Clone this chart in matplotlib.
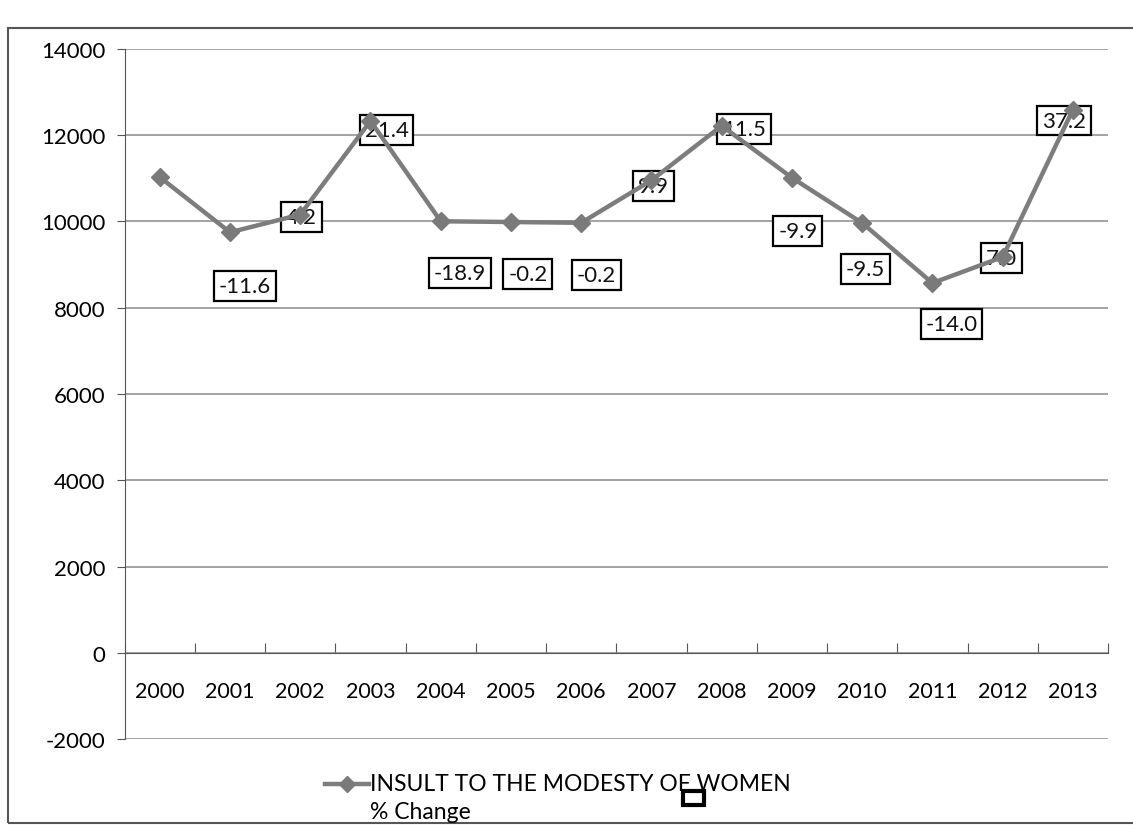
import matplotlib.pyplot as plt
from matplotlib.patches import Rectangle

years = ['2000', '2001', '2002', '2003', '2004', '2005', '2006',
         '2007', '2008', '2009', '2010', '2011', '2012', '2013']
cases = [11024, 9746, 10155, 12325, 10001, 9984, 9966,
         10950, 12214, 11009, 9961, 8570, 9173, 12589]
pct_change = ['', '-11.6', '4.2', '21.4', '-18.9', '-0.2', '-0.2',
              '9.9', '11.5', '-9.9', '-9.5', '-14.0', '7.0', '37.2']
y_ticks = [-2000, 0, 2000, 4000, 6000, 8000, 10000, 12000, 14000]

# where each data label box sits relative to its point (pixels)
label_offsets = [(0, 0), (15, -54), (1, -2), (16, -9), (19, -52), (17, -52), (15, -52),
                 (2, -6), (22, -3), (6, -53), (3, -46), (19, -41), (-1, -1), (-9, -11)]

plt.rcParams['font.family'] = ['Lato', 'DejaVu Sans']

fig = plt.figure(figsize=(11.33, 8.28), dpi=100)
ax = fig.add_axes([0.110, 0.106, 0.868, 0.834])

x = list(range(len(years)))
ax.plot(x, cases, color='#7d7d7d', linewidth=3.2, marker='D', markersize=9,
        markerfacecolor='#7a7a7a', markeredgecolor='#7a7a7a', zorder=3)

for i, txt in enumerate(pct_change):
    if txt == '':
        continue
    dx, dy = label_offsets[i]
    ax.annotate(txt, (x[i], cases[i]), xytext=(dx, dy), textcoords='offset pixels',
                ha='center', va='center', fontsize=16, color='#111111', zorder=2,
                bbox=dict(boxstyle='square,pad=0.22', facecolor='white',
                          edgecolor='black', linewidth=1.6))

ax.set_ylim(-2000, 14000)
ax.set_xlim(-0.5, len(years) - 0.5)
ax.set_yticks(y_ticks)
ax.set_yticklabels([str(v) for v in y_ticks])
ax.yaxis.grid(True, color='#8a8a8a', linewidth=1.1)
ax.set_axisbelow(True)

# category axis: ticks between categories, labels under each category
ax.set_xticks([i - 0.5 for i in range(len(years) + 1)])
ax.set_xticklabels([])
ax.tick_params(axis='x', which='major', direction='in', length=7, color='#555555')
ax.set_xticks(x, minor=True)
ax.set_xticklabels(years, minor=True)
ax.tick_params(axis='x', which='minor', length=0, pad=20, labelsize=15.5)
ax.tick_params(axis='y', length=6, color='#555555', pad=8, labelsize=16)

ax.spines['bottom'].set_position(('data', 0))
ax.spines['bottom'].set_color('#555555')
ax.spines['left'].set_color('#555555')
ax.spines['top'].set_visible(False)
ax.spines['right'].set_visible(False)

# legend drawn by hand
fig.lines.append(plt.Line2D([0.287, 0.326], [0.052, 0.052], color='#7d7d7d', linewidth=3.2,
                            transform=fig.transFigure))
fig.lines.append(plt.Line2D([0.3065], [0.052], color='#7a7a7a', marker='D', markersize=8,
                            linestyle='none', transform=fig.transFigure))
fig.text(0.327, 0.052, 'INSULT TO THE MODESTY OF WOMEN', fontsize=16.5, va='center')
fig.text(0.327, 0.019, '% Change', fontsize=16.5, va='center')
fig.patches.append(Rectangle((0.603, 0.026), 0.018, 0.018, fill=False, edgecolor='black',
                             linewidth=3, transform=fig.transFigure))

# chart area frame
fig.patches.append(Rectangle((0.007, 0.005), 1.2, 0.96, fill=False, edgecolor='#555555',
                             linewidth=1.5, transform=fig.transFigure))

fig.savefig('out.png', dpi=100)
